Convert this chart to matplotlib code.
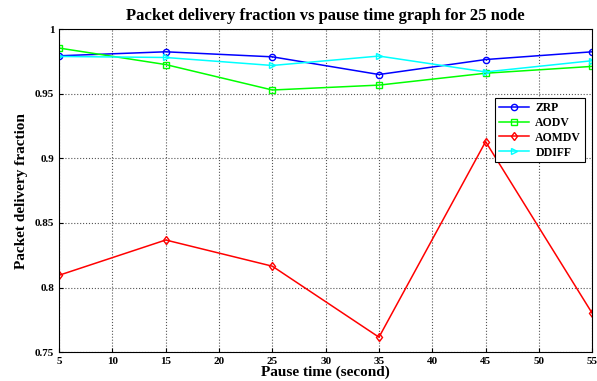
import numpy as np
import matplotlib.pyplot as plt

# pause time (s)
pause_time = [5, 15, 25, 35, 45, 55]

# packet delivery fraction per protocol
zrp   = [0.9795, 0.9826, 0.9787, 0.9650, 0.9766, 0.9826]
aodv  = [0.9855, 0.9727, 0.9530, 0.9568, 0.9660, 0.9713]
aomdv = [0.8095, 0.8368, 0.8165, 0.7615, 0.9130, 0.7800]
ddiff = [0.9790, 0.9782, 0.9720, 0.9793, 0.9670, 0.9757]

plt.rcParams['font.family'] = ['Liberation Serif', 'DejaVu Serif']
plt.rcParams['font.weight'] = 'bold'

fig = plt.figure(figsize=(5.97, 3.81), dpi=100)
ax = fig.add_axes([0.099, 0.076, 0.893, 0.847])

ax.plot(pause_time, zrp, color='blue', marker='o', ms=4.5, mfc='none', lw=1.1, label='ZRP')
ax.plot(pause_time, aodv, color=(0, 1, 0), marker='s', ms=4.5, mfc='none', lw=1.1, label='AODV')
ax.plot(pause_time, aomdv, color='red', marker='d', ms=4.5, mfc='none', lw=1.1, label='AOMDV')
ax.plot(pause_time, ddiff, color='cyan', marker='>', ms=5, mfc='none', lw=1.1, label='DDIFF')

ax.set_xlim(5, 55)
ax.set_ylim(0.75, 1.0)
ax.set_xticks(np.arange(5, 56, 5))
ax.set_yticks([0.75, 0.8, 0.85, 0.9, 0.95, 1.0])
ax.set_yticklabels(['0.75', '0.8', '0.85', '0.9', '0.95', '1'])
ax.tick_params(labelsize=8, direction='in', length=3)
ax.grid(True, linestyle=':', color='#555555', lw=0.8)

ax.set_title('Packet delivery fraction vs pause time graph for 25 node', fontsize=12, fontweight='bold', pad=7)
ax.set_xlabel('Pause time (second)', fontsize=11, fontweight='bold', labelpad=0)
ax.set_ylabel('Packet delivery fraction', fontsize=11, fontweight='bold', labelpad=5)

leg = ax.legend(loc='upper right', bbox_to_anchor=(0.997, 0.805), fontsize=8.5, fancybox=False,
                edgecolor='black', framealpha=1, borderpad=0.3, labelspacing=0.25,
                handlelength=2.6, handletextpad=0.5)
leg.get_frame().set_linewidth(0.8)

fig.savefig('out.png', dpi=100)
